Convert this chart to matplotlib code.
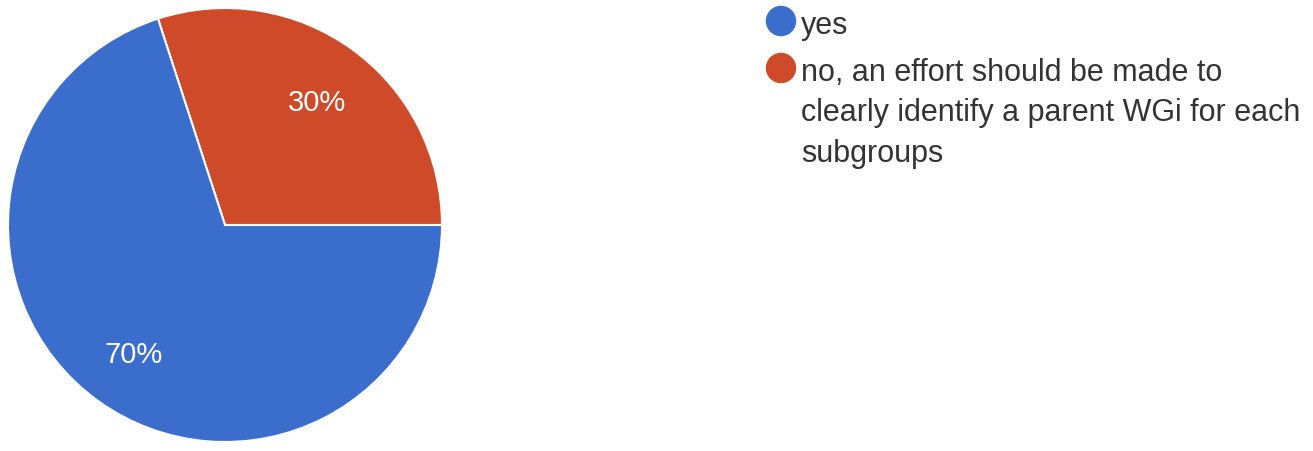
import matplotlib
matplotlib.use('Agg')
import matplotlib.pyplot as plt

# survey answers
answers = ['yes', 'no, an effort should be made to\nclearly identify a parent WGi for each\nsubgroups']
shares = [70, 30]
colors = ['#3a6dcc', '#cf4a29']

plt.rcParams['font.family'] = ['Liberation Sans', 'DejaVu Sans']

W, H = 1313, 452
fig = plt.figure(figsize=(W / 100, H / 100), dpi=100)

# pie area (pixel box converted to figure fractions)
cx, cy, r = 225, 226, 217
ax = fig.add_axes([(cx - r) / W, (H - cy - r) / H, 2 * r / W, 2 * r / H])

# red slice starts at 3 o'clock and runs counter-clockwise, blue follows
wedges, texts, autotexts = ax.pie(
    shares[::-1], colors=colors[::-1], startangle=0, counterclock=True,
    autopct='%d%%', pctdistance=0.72, radius=1,
    wedgeprops=dict(edgecolor='white', linewidth=1.5),
    textprops=dict(color='white', fontsize=21))
for t in autotexts:
    t.set_va('center_baseline')
ax.set_xlim(-1, 1)
ax.set_ylim(-1, 1)
ax.set_aspect('equal')

# legend drawn by hand in pixel coordinates
lg = fig.add_axes([0, 0, 1, 1])
lg.set_xlim(0, W)
lg.set_ylim(H, 0)
lg.axis('off')
rows_y = [22, 69]
for label, color, y in zip(answers, colors, rows_y):
    lg.scatter([781], [y], s=480, color=color, edgecolors='none')
    lg.text(801, y - 11, label, fontsize=22, color='#333333',
            va='top', ha='left', linespacing=1.45)

fig.savefig('out.png', dpi=100)
